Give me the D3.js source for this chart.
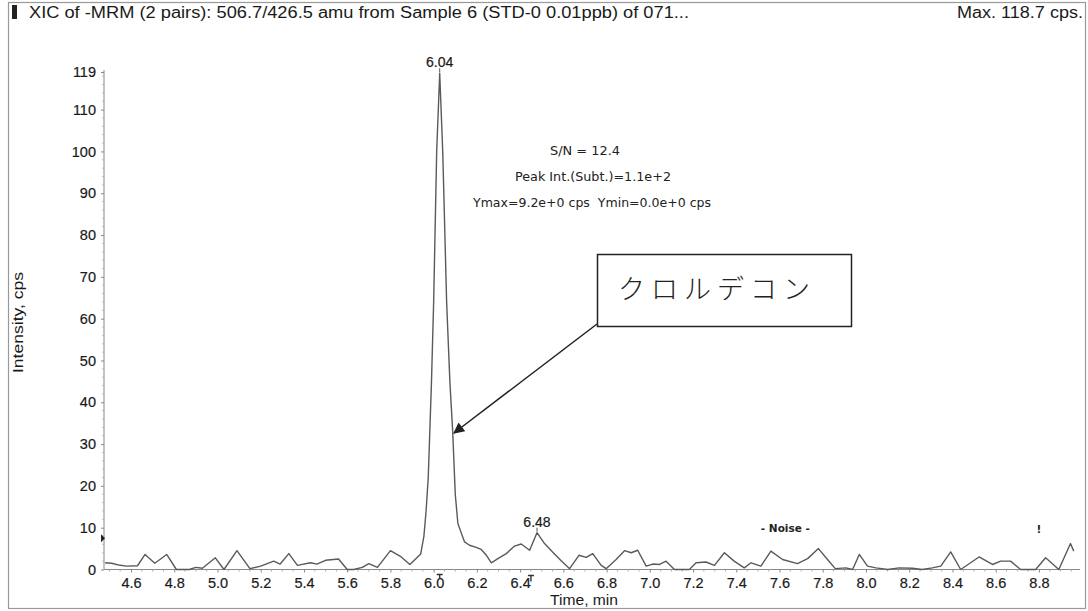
<!DOCTYPE html>
<html>
<head>
<meta charset="utf-8">
<script src="https://cdn.jsdelivr.net/npm/d3@7/dist/d3.min.js"></script>
<style>
  html, body { margin: 0; padding: 0; background: #fff; }
  svg { display: block; }
  .tick-label { font-family: "Liberation Sans", Arial, sans-serif; font-size: 14.5px; fill: #1a1a1a; stroke: #1a1a1a; stroke-width: 0.2px; }
  .note { font-family: "DejaVu Sans", Verdana, sans-serif; font-size: 11.5px; fill: #222; white-space: pre; }
  .label { font-family: "Liberation Sans", Arial, sans-serif; fill: #1a1a1a; }
</style>
</head>
<body>
<svg id="chart" width="1088" height="611"></svg>
<script>
// retention time (min) and intensity (cps)
const times = [
  4.48, 4.51, 4.55, 4.58, 4.63, 4.665, 4.71, 4.765, 4.81, 4.87, 4.9, 4.93, 4.99, 5.03, 5.09,
  5.15, 5.2, 5.26, 5.29, 5.33, 5.37, 5.43, 5.46, 5.5, 5.56, 5.6, 5.63, 5.67, 5.7, 5.74,
  5.8, 5.85, 5.89, 5.94, 5.955, 5.965, 5.975, 5.99, 6.0, 6.014, 6.028, 6.042, 6.06, 6.075,
  6.088, 6.1, 6.112, 6.128, 6.143, 6.166, 6.197, 6.22, 6.244, 6.267, 6.297, 6.336, 6.374,
  6.405, 6.444, 6.478, 6.513, 6.55, 6.59, 6.629, 6.672, 6.706, 6.736, 6.775, 6.798, 6.844,
  6.883, 6.914, 6.944, 6.983, 7.014, 7.045, 7.075, 7.114, 7.183, 7.214, 7.26, 7.299, 7.345,
  7.39, 7.437, 7.468, 7.514, 7.56, 7.614, 7.683, 7.73, 7.78, 7.822, 7.858, 7.907, 7.938,
  7.969, 8.007, 8.046, 8.1, 8.154, 8.215, 8.26, 8.307, 8.346, 8.392, 8.438, 8.523, 8.585,
  8.623, 8.669, 8.715, 8.785, 8.831, 8.892, 8.946, 8.961
];
const intensity = [
  1.6, 1.5, 1.0, 0.8, 0.9, 3.6, 1.5, 3.6, 0, 0, 0.5, 0.3, 2.8, 0, 4.5,
  0.2, 0.8, 2.0, 1.3, 3.8, 1.0, 1.6, 1.3, 2.2, 2.5, 0, 0, 0.5, 1.4, 0.5,
  4.5, 3.0, 1.2, 3.7, 8, 14, 22, 45, 64, 100, 118.7, 100, 64, 45,
  33, 18, 11, 8.7, 6.6, 5.8, 5.3, 4.8, 3.4, 1.6, 2.6, 3.8, 5.6,
  6.1, 4.6, 8.8, 6.2, 4.2, 2.1, 0.2, 3.4, 2.9, 3.8, 1.0, 0.2, 2.4,
  4.5, 4.0, 4.6, 0.8, 1.3, 1.2, 2.0, 0, 0, 1.6, 1.8, 1.0, 4.0,
  2.0, 0.4, 1.6, 0.8, 4.4, 2.4, 1.4, 2.6, 5.0, 2.4, 0.2, 0.4, 0,
  3.6, 0.8, 0.4, 0, 0.4, 0.3, 0, 0.4, 0.8, 4.2, 0, 3.0, 1.2,
  2.0, 2.0, 0, 0, 2.8, 0, 6.2, 4.4
];
const xTicks = [4.6, 4.8, 5.0, 5.2, 5.4, 5.6, 5.8, 6.0, 6.2, 6.4, 6.6, 6.8, 7.0, 7.2, 7.4, 7.6, 7.8, 8.0, 8.2, 8.4, 8.6, 8.8];
const yTicks = [0, 10, 20, 30, 40, 50, 60, 70, 80, 90, 100, 110, 119];
const peakLabels = [{ t: 6.028, v: 118.7, text: "6.04" }, { t: 6.478, v: 8.8, text: "6.48" }];
const infoLines = ["S/N = 12.4", "Peak Int.(Subt.)=1.1e+2", "Ymax=9.2e+0 cps  Ymin=0.0e+0 cps"];
const title = "XIC of -MRM (2 pairs): 506.7/426.5 amu from Sample 6 (STD-0 0.01ppb) of 071...";
const maxText = "Max. 118.7 cps.";
const compound = "クロルデコン";

const svg = d3.select("#chart");
const x = d3.scaleLinear().domain([4.475, 8.99]).range([104, 1080]);
const y = d3.scaleLinear().domain([0, 119]).range([569.5, 72]);

// frame and header
svg.append("rect").attr("x", 8.5).attr("y", 2.5).attr("width", 1077).attr("height", 606)
  .attr("fill", "none").attr("stroke", "#999").attr("stroke-width", 1.2);
svg.append("rect").attr("x", 12).attr("y", 5).attr("width", 5).attr("height", 14).attr("fill", "#222");
svg.append("text").attr("class", "label").attr("x", 29).attr("y", 17.5)
  .style("font-size", "16px").attr("textLength", 660).attr("lengthAdjust", "spacingAndGlyphs")
  .text(title);
svg.append("text").attr("class", "label").attr("x", 957).attr("y", 17.5)
  .style("font-size", "16px").attr("textLength", 126).attr("lengthAdjust", "spacingAndGlyphs")
  .text(maxText);

// axes
const xAxis = d3.axisBottom(x).tickValues(xTicks).tickSize(3).tickFormat(d3.format(".1f"));
const gx = svg.append("g").attr("transform", `translate(0,${y(0)})`).call(xAxis);
gx.select(".domain").attr("stroke", "#888").attr("d", `M${x.range()[0]},0H${x.range()[1]}`);
gx.selectAll(".tick line").attr("stroke", "#888");
gx.selectAll(".tick text").attr("class", "tick-label").attr("dy", "0.95em").attr("y", 5);

const xMinor = d3.range(4.5, 9.0, 0.05).filter((t) => !xTicks.some((m) => Math.abs(m - t) < 1e-6));
svg.append("g").selectAll("line").data(xMinor).join("line")
  .attr("x1", (d) => x(d)).attr("x2", (d) => x(d)).attr("y1", y(0)).attr("y2", y(0) + 2)
  .attr("stroke", "#aaa");

const yAxis = d3.axisLeft(y).tickValues(yTicks).tickSize(3);
const gy = svg.append("g").attr("transform", `translate(${x.range()[0]},0)`).call(yAxis);
gy.select(".domain").attr("stroke", "#888").attr("d", `M0,${y(119) - 2}V${y(0)}`);
gy.selectAll(".tick line").attr("stroke", "#888");
gy.selectAll(".tick text").attr("class", "tick-label").attr("x", -8);

const yMinor = d3.range(2, 119, 2).filter((v) => v % 10 !== 0);
svg.append("g").selectAll("line").data(yMinor).join("line")
  .attr("x1", x.range()[0] - 2).attr("x2", x.range()[0]).attr("y1", (d) => y(d)).attr("y2", (d) => y(d))
  .attr("stroke", "#bbb");

svg.append("text").attr("class", "label").attr("x", 550).attr("y", 605)
  .style("font-size", "14px").attr("textLength", 68).attr("lengthAdjust", "spacingAndGlyphs")
  .text("Time, min");
svg.append("text").attr("class", "label").attr("transform", `translate(23,373) rotate(-90)`)
  .style("font-size", "14px").attr("textLength", 101).attr("lengthAdjust", "spacingAndGlyphs")
  .text("Intensity, cps");

// trace
const pts = times.map((t, i) => [t, intensity[i]]);
svg.append("path").datum(pts)
  .attr("fill", "none").attr("stroke", "#5a5a5a").attr("stroke-width", 1.4).attr("stroke-linejoin", "round")
  .attr("d", d3.line().x((d) => x(d[0])).y((d) => y(d[1])));

// peak labels
svg.append("g").selectAll("text").data(peakLabels).join("text")
  .attr("x", (d) => x(d.t)).attr("y", (d) => y(d.v) - 6).attr("text-anchor", "middle")
  .attr("class", "tick-label").style("font-size", "14px").text((d) => d.text);
svg.append("g").selectAll("line").data(peakLabels).join("line")
  .attr("x1", (d) => x(d.t)).attr("x2", (d) => x(d.t)).attr("y1", (d) => y(d.v) - 5).attr("y2", (d) => y(d.v) - 1)
  .attr("stroke", "#555");

// small markers on the axes
svg.append("path").attr("d", `M${x.range()[0] - 3},${y(7.5) - 4}L${x.range()[0] + 1},${y(7.5)}L${x.range()[0] - 3},${y(7.5) + 4}Z`).attr("fill", "#222");
svg.append("path").attr("d", `M${x(6.028) - 3},${y(0) + 5}H${x(6.028) + 3}M${x(6.028)},${y(0) + 5}V${y(0) + 9}`)
  .attr("stroke", "#333").attr("stroke-width", 1.4);
svg.append("path").attr("d", `M${x(6.45) - 3},${y(0) + 6}H${x(6.45) + 3}M${x(6.45)},${y(0) + 6}V${y(0) + 12}`)
  .attr("stroke", "#333").attr("stroke-width", 1.4);
svg.append("text").attr("x", x(7.627)).attr("y", 532).attr("text-anchor", "middle")
  .attr("class", "note").style("font-size", "10.5px").style("font-weight", "bold").text("- Noise -");
svg.append("text").attr("x", x(8.8)).attr("y", 533).attr("text-anchor", "middle")
  .attr("class", "note").style("font-size", "10.5px").style("font-weight", "bold").text("!");

// peak info
const infoPos = [{ cx: 585, w: 70 }, { cx: 593, w: 156 }, { cx: 592, w: 238 }];
svg.append("g").selectAll("text").data(infoLines).join("text")
  .attr("class", "note").attr("x", (d, i) => infoPos[i].cx - infoPos[i].w / 2).attr("y", (d, i) => 155 + i * 26)
  .attr("textLength", (d, i) => infoPos[i].w).attr("lengthAdjust", "spacingAndGlyphs")
  .text((d) => d);

// compound callout
svg.append("defs").append("marker").attr("id", "arrow").attr("viewBox", "0 0 10 10")
  .attr("refX", 9).attr("refY", 5).attr("markerWidth", 15).attr("markerHeight", 11).attr("orient", "auto")
  .attr("markerUnits", "userSpaceOnUse")
  .append("path").attr("d", "M0,0L10,5L0,10Z").attr("fill", "#222");
svg.append("line").attr("x1", 597).attr("y1", 324).attr("x2", 454).attr("y2", 433)
  .attr("stroke", "#222").attr("stroke-width", 1.5).attr("marker-end", "url(#arrow)");
svg.append("rect").attr("x", 597.5).attr("y", 254.5).attr("width", 254).attr("height", 72)
  .attr("fill", "#fff").attr("stroke", "#222").attr("stroke-width", 1.5);
svg.append("text").attr("x", 717).attr("y", 299).attr("text-anchor", "middle")
  .style("font-family", "Noto Sans CJK JP, sans-serif").style("font-weight", "300").style("font-size", "27px")
  .style("letter-spacing", "6px").style("fill", "#222").text(compound);
</script>
</body>
</html>
